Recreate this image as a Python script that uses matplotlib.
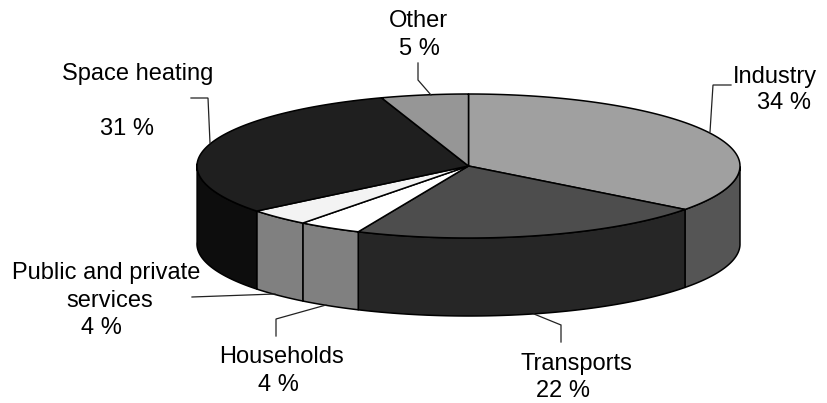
import numpy as np
import matplotlib
matplotlib.use("Agg")
import matplotlib.pyplot as plt
from matplotlib.patches import Polygon

plt.rcParams['font.family'] = ['Liberation Sans', 'DejaVu Sans']

# Energy use by sector, clockwise from twelve o'clock
sectors = ["Industry", "Transports", "Households", "Public and private services", "Space heating", "Other"]
shares = [34, 22, 4, 4, 31, 5]
top_colors = ["#a0a0a0", "#4d4d4d", "#ffffff", "#f3f3f3", "#1f1f1f", "#969696"]
side_colors = ["#555555", "#262626", "#808080", "#808080", "#0d0d0d", "#4a4a4a"]

# Disc geometry in pixel units
CX, CY, RX, RY, DEPTH = 468.5, 166.0, 271.5, 72.0, 78.0


def skew(theta):
    # Slight angular distortion of the tilted disc
    return theta + np.radians(2.5) * np.sin(theta) + np.radians(1.7) * (1 - np.cos(theta))


def rim(theta, drop=0.0):
    t = skew(theta)
    return np.column_stack([CX + RX * np.sin(t), CY - RY * np.cos(t) + drop])


fig = plt.figure(figsize=(8.28, 4.03), dpi=100)
ax = fig.add_axes([0, 0, 1, 1])
ax.set_xlim(0, 828)
ax.set_ylim(403, 0)
ax.axis("off")

edges = 2 * np.pi * np.concatenate([[0], np.cumsum(shares)]) / sum(shares)

# Outer wall: only the part of the rim facing the viewer is drawn
right_limit = np.pi / 2 - np.radians(3.5)
left_limit = 3 * np.pi / 2 + np.radians(2.5)
for a, b, col in zip(edges[:-1], edges[1:], side_colors):
    lo, hi = max(a, right_limit), min(b, left_limit)
    if lo >= hi:
        continue
    t = np.linspace(lo, hi, 80)
    wall = np.vstack([rim(t), rim(t[::-1], DEPTH)])
    ax.add_patch(Polygon(wall, closed=True, facecolor=col, edgecolor="black", linewidth=1.1, joinstyle="round"))

# Top surface
for a, b, col in zip(edges[:-1], edges[1:], top_colors):
    t = np.linspace(a, b, 120)
    face = np.vstack([[CX, CY], rim(t)])
    ax.add_patch(Polygon(face, closed=True, facecolor=col, edgecolor="black", linewidth=1.1, joinstyle="round"))

# Leader lines
leaders = [
    ([418, 418, 431], [63, 80, 95]),
    ([731, 713, 710], [85, 85, 132]),
    ([191, 208, 210], [98, 98, 143]),
    ([192, 275], [297, 294]),
    ([276, 276, 326], [336, 319, 305]),
    ([561, 561, 534], [342, 325, 314]),
]
for xs, ys in leaders:
    ax.plot(xs, ys, color="#222222", linewidth=0.9, solid_joinstyle="miter")

# Labels: text, left edge, baseline
labels = [
    ("Other", 389, 27), (f"{shares[5]} %", 399, 55),
    ("Industry", 733, 83), (f"{shares[0]} %", 757, 109),
    ("Space heating", 62, 80), (f"{shares[4]} %", 100, 135),
    ("Public and private", 12, 279), ("services", 66, 307), (f"{shares[3]} %", 81, 334),
    ("Households", 219, 363), (f"{shares[2]} %", 258, 391),
    ("Transports", 521, 370), (f"{shares[1]} %", 536, 397),
]
for text, x, y in labels:
    ax.text(x, y, text, fontsize=17, color="black", ha="left", va="baseline")

fig.savefig("out.png", dpi=100, facecolor="white")
